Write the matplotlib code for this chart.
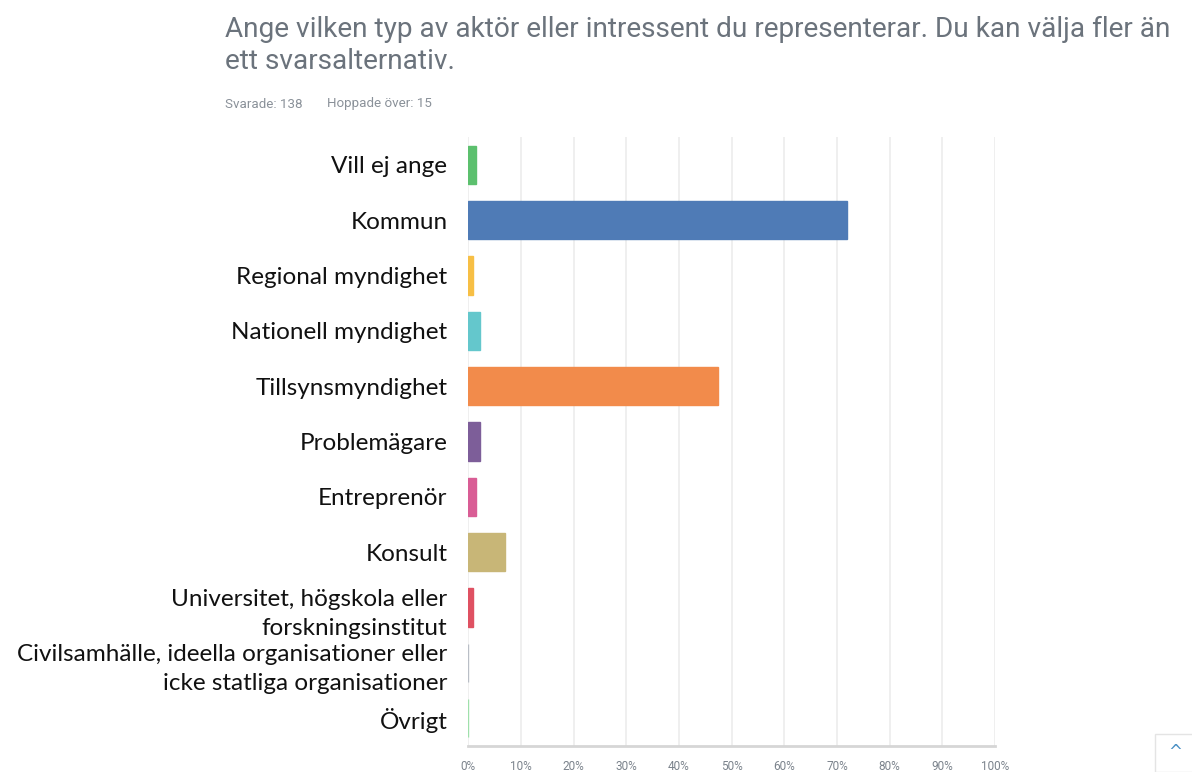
import matplotlib.pyplot as plt
from matplotlib.patches import Rectangle

# Survey answers, share of respondents (%)
categories = [
    "Vill ej ange",
    "Kommun",
    "Regional myndighet",
    "Nationell myndighet",
    "Tillsynsmyndighet",
    "Problemägare",
    "Entreprenör",
    "Konsult",
    "Universitet, högskola eller\nforskningsinstitut",
    "Civilsamhälle, ideella organisationer eller\nicke statliga organisationer",
    "Övrigt",
]
percent = [1.5, 71.9, 0.8, 2.3, 47.5, 2.3, 1.5, 6.9, 0.8, 0.0, 0.0]
colors = ["#5cc06e", "#4f7bb6", "#f7bf45", "#64c7cc", "#f28b4b", "#7d5e99",
          "#d95d95", "#c8b677", "#df5162", "#b9bec6", "#9fe0ab"]

x_ticks = list(range(0, 101, 10))
x_labels = [f"{t}%" for t in x_ticks]

title = "Ange vilken typ av aktör eller intressent du representerar. Du kan välja fler än\nett svarsalternativ."
answered = "Svarade: 138"
skipped = "Hoppade över: 15"

fig = plt.figure(figsize=(11.92, 7.72), dpi=100)
ax = fig.add_axes([468.3 / 1192, 1 - 746 / 772, (995 - 468.3) / 1192, (746 - 137) / 772])

y = list(range(len(categories)))
ax.barh(y, percent, height=0.69, color=colors, edgecolor=colors, linewidth=1.0, zorder=3)

ax.set_xlim(0, 100)
ax.set_ylim(len(categories) - 0.5, -0.5)
ax.set_xticks(x_ticks)
ax.set_xticklabels(x_labels, fontsize=8.5, color="#7b838c", family="Roboto")
ax.tick_params(axis="x", length=0, pad=10)
ax.set_yticks(y)
ax.set_yticklabels(categories, fontsize=17.5, family="Lato", color="#111111", linespacing=1.5)
ax.tick_params(axis="y", length=0, pad=15)

ax.grid(axis="x", color="#ececec", linewidth=1.2, zorder=0)
for s in ["top", "right", "left"]:
    ax.spines[s].set_visible(False)
ax.spines["bottom"].set_color("#d6d6d6")
ax.spines["bottom"].set_linewidth(2)

fig.text(225 / 1192, 1 - 16 / 772, title, fontsize=20.2, family="Roboto",
         color="#6b737c", va="top", ha="left", linespacing=1.22)
fig.text(225 / 1192, 1 - 104 / 772, answered, fontsize=9.6, family="Roboto", color="#8a9199",
         va="center", ha="left")
fig.text(327 / 1192, 1 - 104 / 772, skipped, fontsize=9.6, family="Roboto", color="#8a9199",
         va="center", ha="left")

# scroll-to-top button in the corner
fig.patches.append(Rectangle((1155 / 1192, 0), 40 / 1192, 38 / 772, transform=fig.transFigure,
                             facecolor="white", edgecolor="#e4e4e4", linewidth=1))
fig.text(1175 / 1192, 1 - 752 / 772, "^", fontsize=12, color="#4a90c4", ha="center", va="center")

fig.savefig("out.png", dpi=100)
